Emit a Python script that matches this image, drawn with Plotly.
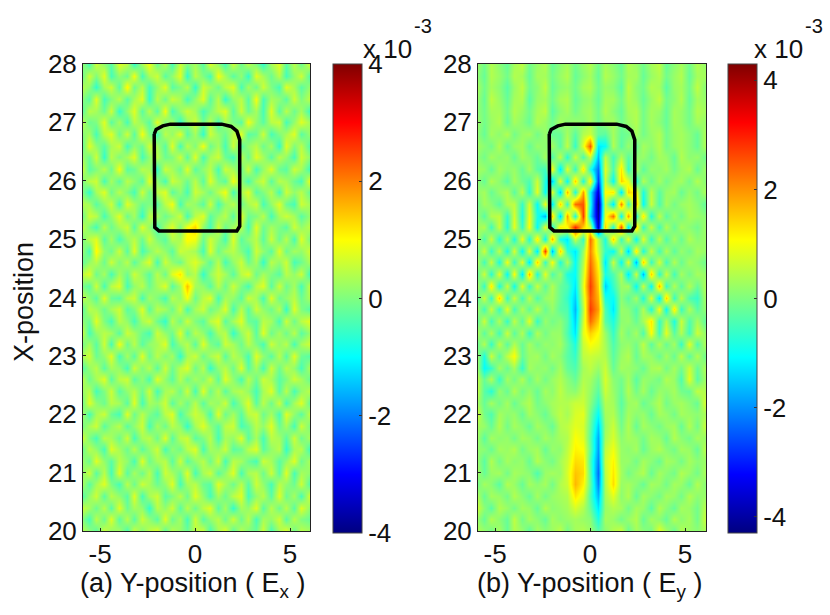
import plotly.graph_objects as go

# Coordinates of the cells
y_pos = [-6 + 0.4 * j for j in range(31)]
x_pos = [28 - 0.2 * i for i in range(41)]

# Field values, in typed steps (see unit_a, unit_b), rows from X=28 down to X=20
Ey = [
[3,-1,4,1,-2, 3,5,-1,2,4, -2,1,3,-1,2, 4,-1,3,1,-2, 4,2,-1,3,5, -2,1,3,-1,4, 2],
[2,-2,4,2,-1, 4,3,-2,3,3, -1,2,4,-2,1, 3,-2,4,2,-1, 3,3,-2,2,4, -1,2,4,-2,3, 3],
[4,-1,3,1,-3, 2,5,-1,1,5, -2,1,2,-1,3, 4,-1,2,1,-3, 5,1,-1,4,3, -3,2,3,-1,5, 1],
[3,-2,5,2,-2, 3,4,-3,2,3, -1,3,4,-2,1, 2,-2,3,3,-1, 4,2,-2,2,5, -1,1,4,-2,3, 2],
[2,-1,3,3,-1, 4,2,-1,3,5, -3,1,3,-1,2, 3,-1,4,1,-2, 3,4,-1,3,2, -2,3,2,-1,4, 3],
[3,-1,2,4,-2, 3,1,-2,4,2, -1,3,1,2,1, 3,-1,2,3,-1, 2,4,-1,3,1, -2,3,2,-1,3, 2],
[2,-2,3,1,4, -1,2,3,-1,2, -2,-2,3,-3,4, 6,-2,-3,3,-2, -1,3,-1,2,4, -1,2,3,1,-2, 3],
[3,1,-1,4,-2, 2,3,-2,2,1, 3,-3,5,-6,8, 24,-12,-10,4,-3, 2,-2,3,1,4, -1,2,3,1,-2, 3],
[2,-1,3,1,2, -2,3,1,-2,3, -4,5,-7,6,-4, 6,-16,5,-5,4, -3,1,2,-1,3, 2,-2,4,1,2, -1],
[3,2,-2,3,1, 2,-2,3,-3,-5, 10,-12,8,-6,12, -8,-22,8,-4,12, -6,4,-3,2,1, 3,-1,2,4,-2, 2],
[2,-2,4,1,-3, 3,-1,-4,6,-8, -14,8,-10,14,-8, 12,-26,6,-10,14, 8,-8,4,-2,3, -1,2,3,-1,4, 1],
[1,3,-2,2,4, -3,5,-7,8,-10, 8,-14,16,-8,18, -10,-34,10,12,-12, 14,10,-8,5,-3, 2,3,-2,2,-1, 3],
[-2,3,1,-3,4, 5,-6,7,-10,9, -12,14,-6,22,24, -8,-40,6,-12,20, -6,16,-10,6,-4, 3,-1,2,3,1, -2],
[3,-3,4,5,-6, 7,-8,9,-8,-16, 14,-14,18,-8,26, -12,-38,8,22,-10, 18,-8,12,-8,5, -3,2,-1,3,2, 1],
[2,4,-5,6,-7, 8,-6,10,-10,8, -8,12,10,28,14, 6,-36,14,-8,24, -12,14,-6,6,-5, 4,-2,3,1,-1, 2],
[5,-4,6,-7,5, -8,9,-8,12,-10, 16,-8,-12,6,-6, 22,4,-8,14,-6, 8,-10,8,-6,5, -4,3,-2,4,1, 2],
[-3,6,-6,5,-8, 7,-10,8,-12,26, -16,14,-6,-12,2, 20,6,-6,-10,6, -14,12,-8,6,-5, 4,-3,2,-1,3, 2],
[5,-5,6,-8,9, -6,8,-12,14,-6, 10,-8,4,-10,4, 22,10,-12,6,-10, 8,-16,14,-6,7, -5,4,-2,3,1, -1],
[-4,6,-7,8,-10, 10,-12,16,-8,8, -4,2,-8,-10,6, 24,12,-8,-4,4, -12,6,-16,14,-7, 6,-5,3,-1,3, 2],
[5,-6,12,-8,6, -9,8,-6,6,-3, 4,-2,-4,-12,8, 26,14,-14,-6,2, 3,-10,6,-10,16, -6,4,-3,4,-2, 3],
[-5,6,-6,14,-6, 6,-5,5,-4,2, 3,-2,-6,-14,6, 24,16,-8,-10,1, -3,3,-8,8,-12, 14,-6,5,-4,-6, 2],
[4,-5,6,-6,8, -5,4,-3,5,-2, 2,-3,-4,-16,4, 26,18,-4,-12,2, 1,-4,4,-8,10, -10,12,-6,4,-3, 1],
[-4,6,-5,4,-6, 5,-3,8,-6,2, -1,1,-3,-14,6, 22,14,-3,-8,1, 2,-2,3,12,-6, 4,-8,6,-4,3, -2],
[5,-3,4,-5,6, -3,4,-6,4,-1, 2,2,-4,-12,8, 14,10,2,-6,3, -1,3,-4,10,-5, 8,-3,4,-5,6, 2],
[-3,4,-6,5,-3, 4,-2,3,-1,2, 1,3,-2,-8,6, 10,8,3,-4,1, 2,-1,5,-3,4, -2,3,-6,8,-4, 3],
[4,-8,6,-3,5, 10,-2,2,3,-1, 3,1,-3,-6,5, 6,5,4,-3,2, 4,-2,3,2,-2, 3,-2,5,-3,4, -1],
[5,-10,-6,3,-2, 3,-6,3,1,2, -1,3,-2,-4,3, 5,2,6,-2,3, 2,1,-2,3,4, -1,3,-1,6,-2, 3],
[6,-2,4,-6,3, -1,4,-2,3,-1, 2,4,1,-2,4, 3,-1,7,1,-1, 3,-3,2,1,-1, 4,2,-4,8,-3, 2],
[7,-3,-7,2,-2, 4,-1,2,-2,3, 1,5,2,1,5, 2,-3,6,2,-2, 4,-1,3,-2,2, 1,3,-1,-2,5, 4],
[4,-2,3,-1,3, -2,2,4,-1,1, 3,4,4,6,6, 1,-6,4,3,-3, 2,3,-2,1,4, -1,2,3,1,-2, 6],
[8,-1,-4,3,1, 2,-2,3,1,-2, 2,5,3,7,8, -1,-10,3,4,-2, 3,1,2,-2,3, 2,-1,3,2,1, 3],
[3,2,-2,4,-1, 3,1,-2,3,1, -2,4,5,8,7, -2,-14,2,6,-1, 4,-2,3,1,-1, 2,3,-2,4,-1, 5],
[4,-3,3,1,2, -1,3,2,-1,3, 1,3,4,10,8, -3,-17,3,7,1, 3,2,-1,3,2, -2,4,1,-1,3, 2],
[2,1,-2,3,2, 4,-1,2,3,-2, 2,1,5,11,10, -2,-18,5,9,2, 1,3,-2,2,4, 1,-1,3,2,-2, 4],
[3,-3,4,-1,3, 1,2,-2,4,1, -1,3,6,13,12, -4,-20,6,11,2, 2,-1,3,1,-2, 3,2,-1,3,1, 2],
[4,-2,2,3,-1, 3,2,1,-4,2, 3,2,7,15,13, -3,-22,5,12,3, -1,2,4,-2,3, 1,-1,4,2,-1, 3],
[-2,3,1,-3,4, 2,-2,3,1,3, -1,4,6,16,11, -2,-20,4,13,2, 3,1,-2,3,2, -1,3,2,-2,4, 1],
[5,-2,3,2,-1, 4,1,-2,3,-1, 2,3,4,12,8, -4,-16,3,8,1, 4,-2,3,1,-1, 3,2,-1,4,1, 2],
[7,1,-3,4,2, -1,3,2,-2,4, 1,2,3,7,4, -2,-12,2,4,3, -1,3,2,-3,4, 1,-2,3,2,-1, 4],
[3,-2,4,1,-2, 5,-1,3,1,-2, 3,1,2,3,2, 1,-8,3,2,-1, 2,4,-2,3,1, -2,4,1,3,-1, 5],
[4,2,-1,3,-2, 4,2,-3,3,1, 2,5,-1,3,4, 2,-3,1,4,6, -2,3,1,-1,8, 3,-2,4,2,1, 3],
]

Ex = [
[2,-3,4,1,-2, 5,3,-4,2,6, -1,3,-3,4,0, 2,-2,5,1,-3, 4,-1,3,0,-4, 2,5,-2,3,-1, 4],
[-2,4,0,5,-3, 1,-1,6,-3,2, 4,-2,1,5,-4, 3,0,-3,6,2, -2,1,-4,5,2, -1,3,-3,1,4, -2],
[3,1,-4,2,4, -2,7,-1,3,-3, 1,5,-2,0,3, -4,4,2,-1,3, 5,-3,2,-1,4, 0,-3,5,2,-2, 1],
[1,-2,5,-3,0, 3,-2,2,5,-4, 3,-1,4,2,-3, 1,5,-2,3,-4, 1,3,-2,6,-3, 2,1,-2,4,0, 3],
[-3,3,2,-1,4, -4,1,5,-2,3, -2,6,-3,1,4, 2,-3,0,3,5, -2,4,-1,2,-3, 5,-2,3,-1,2, -3],
[4,-1,0,5,-2, 2,-3,3,1,-2, 5,0,2,-4,1, 4,-1,3,-3,2, 0,-2,6,1,-2, 3,4,-3,1,5, 2],
[0,2,-3,3,5, -1,4,-2,6,0, -3,3,1,5,-2, 2,-4,4,1,-1, 3,5,-2,-1,4, -3,0,2,5,-2, 1],
[-3,5,1,-2,2, 4,-3,1,-1,4, 2,-2,5,-3,3, 0,6,-1,2,-3, 4,-2,1,3,-1, 2,-4,5,0,3, -2],
[2,-1,4,-4,3, 0,2,5,-3,1, 3,-1,0,4,-2, 5,-3,2,4,-1, -3,3,-1,5,2, -2,3,1,-3,4, 1],
[5,-2,0,3,-1, 6,-2,-1,3,2, -4,4,2,-1,5, -2,1,3,-3,4, 2,-1,4,-3,1, 5,-1,-2,4,2, -3],
[-1,3,4,-3,2, -2,3,1,-2,5, 1,-3,4,2,-1, 3,-2,5,0,-2, 6,1,-3,2,4, -2,3,2,-1,-3, 5],
[1,-4,2,5,-1, 3,0,-3,4,-1, 3,5,-2,1,-3, 4,2,-1,3,6, -3,2,5,-2,0, 3,-3,4,1,3, -1],
[3,2,-2,1,4, -3,5,2,-1,0, -2,3,6,-3,2, 1,-2,4,-3,1, 3,-1,2,4,-3, 1,5,-1,-3,4, 2],
[-2,4,3,-3,1, 5,-1,2,-4,3, 2,-1,1,4,-3, 3,5,-2,1,3, -2,5,-1,0,3, -3,2,4,2,-2, 1],
[4,0,-3,3,-1, 2,4,-2,5,1, -3,2,5,0,6, 9,1,-3,4,-1, 2,3,-3,5,-1, 2,0,-2,4,1, 3],
[-1,3,5,-2,2, -3,1,3,-1,4, 0,-2,3,2,7, 6,-1,4,1,-3, 5,-2,1,3,-2, 4,-1,3,-3,5, 0],
[2,-3,7,1,-1, 4,-2,5,-3,0, 3,1,-2,4,3, 2,-3,5,-1,2, 3,0,-3,4,1, -2,5,-1,2,1, 4],
[-2,1,3,-1,4, 0,3,-2,2,5, -3,4,1,-1,3, 5,2,-2,3,-3, 1,4,-1,2,-4, 3,1,4,-3,-1, 2],
[3,5,-1,2,-3, 2,-1,4,1,-2, 3,-1,5,8,1, 3,-4,1,4,2, -2,3,5,-1,2, 0,-2,3,1,4, -3],
[0,-2,4,-3,3, 5,-3,1,3,-1, 2,5,-2,2,10, 2,1,-2,3,-1, 4,0,-3,3,5, -2,4,-1,2,-3, 3],
[4,1,-2,5,-1, -2,3,4,-3,2, 0,-3,3,1,6, -1,3,5,-3,2, 1,-2,4,2,-3, 5,-1,1,3,-1, 2],
[-3,3,2,-1,2, 4,-2,0,5,-2, 3,2,-1,4,-3, 2,4,-1,1,5, -3,3,-2,4,1, -1,3,-4,5,0, -2],
[1,-1,5,0,-3, 3,1,-3,2,4, -1,-4,3,-1,4, 0,-2,3,5,-2, 2,5,-1,-2,3, 2,-3,4,-1,3, 5],
[5,-3,1,3,2, -2,4,2,-1,-3, 4,1,-1,5,-2, 3,1,-3,2,3, -4,1,4,-2,5, -1,2,-1,3,-2, 1],
[-1,2,-2,4,-3, 6,-1,3,-2,1, 2,5,-3,1,3, -2,5,0,-2,4, 2,-1,3,0,-3, 4,1,3,-3,2, 4],
[2,4,-1,1,5, -3,2,-2,5,-1, 3,0,2,-4,2, 4,-1,2,4,-2, 3,1,-3,5,1, -2,3,-2,5,-1, -2],
[-3,1,3,-2,2, 1,-3,4,0,3, -2,4,-1,3,5, -1,3,-4,1,3, -1,5,-2,2,-3, 4,-1,3,1,-3, 2],
[4,-1,2,5,-2, 3,4,-2,1,-3, 5,1,-2,3,-1, 2,0,4,-2,5, 1,-3,3,-1,4, 2,-2,0,4,2, -1],
[1,3,-3,0,4, -2,1,3,-1,4, -3,2,3,-1,4, -3,5,-1,3,-2, 2,3,1,-3,2, 5,-2,3,-3,1, 3],
[-2,5,1,-1,3, 2,-2,5,-3,2, 1,4,-2,2,-1, 3,-2,2,1,4, -3,1,5,-2,3, -1,4,-3,2,5, -1],
[3,-3,2,4,-1, -3,5,-1,3,0, -2,3,5,-3,1, 4,2,-3,5,-1, 2,-2,3,4,-1, 2,-3,5,1,-2, 3],
[-1,2,4,-2,1, 3,-2,1,4,-3, 2,-1,3,1,-4, 2,5,1,-2,3, 4,-3,-1,3,1, 5,-1,2,-3,4, 0],
[5,0,-3,3,2, -1,4,-3,2,3, -1,5,-2,3,4, -2,0,3,-3,2, 1,5,-2,2,-3, 3,2,-2,4,-1, 2],
[-2,3,1,-3,5, 2,-1,3,-2,1, 4,-3,1,-1,3, 5,-3,2,1,4, -2,-1,3,5,-2, 1,3,-4,2,3, -3],
[2,-1,5,1,-2, 3,1,-3,5,-1, 2,3,-2,4,-2, 1,3,-1,4,-3, 3,2,-1,-3,4, 2,-2,1,5,-1, 2],
[0,4,-2,3,-3, 5,-2,2,-1,3, -3,4,2,-1,5, -3,2,4,-2,1, 5,-3,2,3,-1, 4,-2,5,-3,2, 1],
[3,-2,2,5,0, -3,3,-1,4,2, -1,1,5,-3,2, 3,-1,-2,5,2, -1,3,-2,4,1, -3,3,1,-1,4, -2],
[-3,1,4,-2,3, 1,-2,5,-3,2, 4,-2,0,3,-1, 5,1,-3,2,-1, 3,5,-3,1,3, -2,5,-1,2,-3, 4],
[4,2,-1,3,-2, 5,-1,2,1,-4, 3,1,4,-2,3, -1,3,5,-2,2, -4,2,1,5,-2, 3,-1,3,-2,5, 1],
[1,-3,3,-1,5, -2,3,-2,4,1, -2,5,-1,2,-3, 4,-2,1,3,-1, 4,-1,3,-3,2, 1,4,-2,3,0, -1],
[3,1,-2,4,1, 2,-3,4,0,3, 5,-2,3,1,-1, 3,4,-3,2,5, -2,3,0,-1,4, -3,2,5,-1,3, 2],
]

# Outline of the rectangular region
box_y = [-2.15, -2.05, -1.7, -1.3, 1.4, 1.9, 2.2, 2.35, 2.35, 2.2, -1.9, -2.12, -2.15]
box_x = [26.8, 26.88, 26.94, 26.97, 26.97, 26.93, 26.85, 26.7, 25.22, 25.14, 25.14, 25.2, 26.8]

# Units, tick labels, ranges
unit_a = 0.15
unit_b = 0.105
x_ticks = [-5, 0, 5]
x_labels = ["-5", "0", "5"]
y_ticks = [20, 21, 22, 23, 24, 25, 26, 27, 28]
cbar_ticks = [-4, -2, 0, 2, 4]
cbar_labels = ["-4", "-2", "0", "2", "4"]
zmax_a = 4.0
zmax_b = 4.3

jet = [[0, "rgb(0,0,128)"], [0.125, "rgb(0,0,255)"], [0.375, "rgb(0,255,255)"],
       [0.625, "rgb(255,255,0)"], [0.875, "rgb(255,0,0)"], [1, "rgb(128,0,0)"]]

W, H = 830, 615
FONT = "Liberation Sans"
TICK = 26

def scaled(rows, unit):
    return [[v * unit for v in row] for row in rows]

fig = go.Figure()

def heat(z, unit, zmax, xax, yax, barleft):
    fig.add_trace(go.Heatmap(
        x=y_pos, y=x_pos, z=scaled(z, unit), zmin=-zmax, zmax=zmax, colorscale=jet,
        zsmooth="best", xaxis=xax, yaxis=yax, hoverinfo="skip",
        colorbar=dict(
            x=barleft / W, xanchor="left", xpad=0, ypad=0,
            y=1 - 298.5 / H, yanchor="middle",
            lenmode="pixels", len=469, thicknessmode="pixels", thickness=29,
            tickmode="array", tickvals=cbar_ticks, ticktext=cbar_labels,
            ticks="inside", ticklen=3, tickcolor="#333",
            tickfont=dict(family=FONT, size=TICK, color="#111"),
            outlinecolor="#444", outlinewidth=1,
        ),
    ))
    fig.add_trace(go.Scatter(
        x=box_y, y=box_x, mode="lines", line=dict(color="black", width=3.5),
        xaxis=xax, yaxis=yax, showlegend=False, hoverinfo="skip",
    ))

heat(Ex, unit_a, zmax_a, "x", "y", 333)
heat(Ey, unit_b, zmax_b, "x2", "y2", 728)

axis_common = dict(showgrid=False, zeroline=False, showline=True, linecolor="#222",
                   linewidth=1, mirror=True, ticks="inside", ticklen=3, tickcolor="#222",
                   tickfont=dict(family=FONT, size=TICK, color="#111"))
y_dom = [1 - 531 / H, 1 - 64 / H]

fig.update_layout(
    width=W, height=H, margin=dict(l=0, r=0, t=0, b=0, autoexpand=False), autosize=False,
    paper_bgcolor="white", plot_bgcolor="white", showlegend=False,
    xaxis=dict(domain=[83 / W, 310 / W], range=[-5.9, 6.05], tickvals=x_ticks, ticktext=x_labels,
               **axis_common),
    yaxis=dict(domain=y_dom, range=[20, 28], tickvals=y_ticks, **axis_common),
    xaxis2=dict(domain=[478 / W, 706 / W], range=[-5.9, 6.1], tickvals=x_ticks, ticktext=x_labels,
                anchor="y2", **axis_common),
    yaxis2=dict(domain=y_dom, range=[20, 28], tickvals=y_ticks, anchor="x2", **axis_common),
)

def label(text, px, py, size=TICK, angle=0):
    fig.add_annotation(text=text, x=px / W, y=1 - py / H, xref="paper", yref="paper",
                       showarrow=False, textangle=angle, xanchor="center", yanchor="middle",
                       font=dict(family=FONT, size=size, color="#111"))

label("(a) Y-position ( E<sub>x</sub> )", 193, 585, size=27)
label("(b) Y-position ( E<sub>y</sub> )", 590, 585, size=27)
label("X-position", 24, 302, size=27, angle=-90)
label("x 10", 387, 49)
label("-3", 423, 26, size=20)
label("x 10", 778, 49)
label("-3", 814, 26, size=20)

fig.write_html("out.html", post_script="document.body.style.margin='0';",
               config={"displayModeBar": False})
